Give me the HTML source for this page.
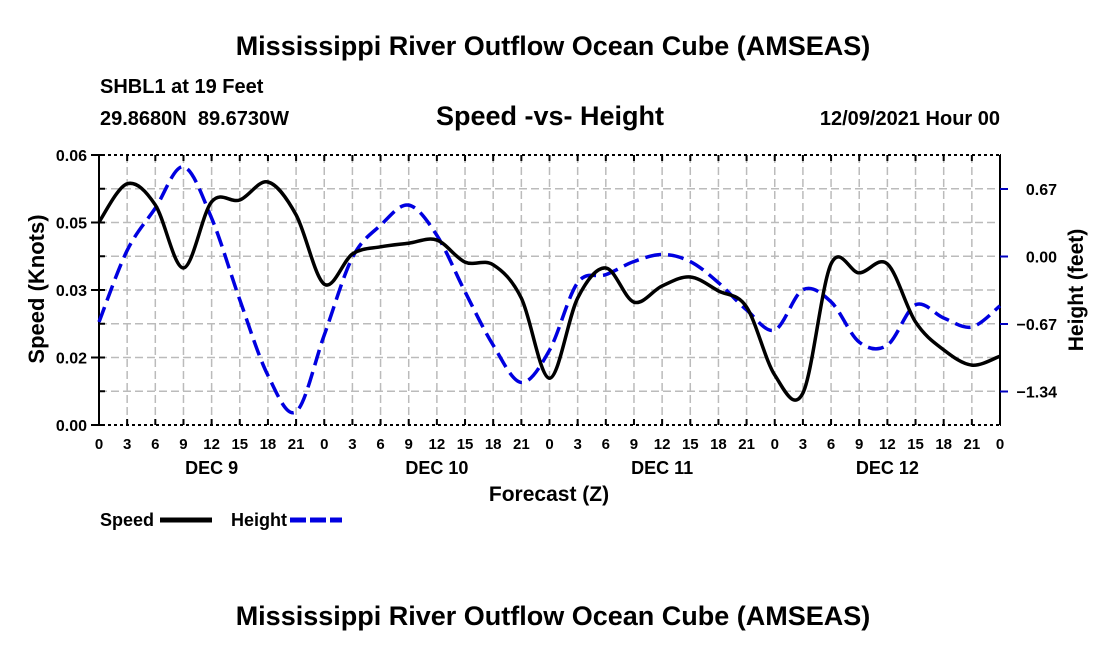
<!DOCTYPE html>
<html><head><meta charset="utf-8"><style>
body{margin:0;background:#fff;}
svg text{font-family:"Liberation Sans",Arial,sans-serif;font-weight:bold;fill:#000;}
</style></head><body>
<svg id="chart" width="1100" height="650" viewBox="0 0 1100 650">
<text x="553" y="55" font-size="27" text-anchor="middle">Mississippi River Outflow Ocean Cube (AMSEAS)</text>
<text x="100" y="93" font-size="20">SHBL1 at 19 Feet</text>
<text x="100" y="125" font-size="20" xml:space="preserve" style="white-space:pre">29.8680N  89.6730W</text>
<text x="550" y="125" font-size="27" text-anchor="middle">Speed -vs- Height</text>
<text x="1000" y="125" font-size="20" text-anchor="end">12/09/2021 Hour 00</text>
<g id="grid"></g>
<g id="axes"></g>
<g id="series"></g>
<text transform="translate(44,289) rotate(-90)" font-size="22" text-anchor="middle">Speed (Knots)</text>
<text transform="translate(1083,290) rotate(-90)" font-size="21" text-anchor="middle">Height (feet)</text>
<text x="549" y="501" font-size="21" text-anchor="middle">Forecast (Z)</text>
<g>
<text x="100" y="526" font-size="18">Speed</text>
<line x1="160" y1="520" x2="212" y2="520" stroke="#000" stroke-width="5"/>
<text x="231" y="526" font-size="18">Height</text>
<line x1="290" y1="520" x2="342" y2="520" stroke="#0000e0" stroke-width="5" stroke-dasharray="16,4"/>
</g>
<text x="553" y="625" font-size="27" text-anchor="middle">Mississippi River Outflow Ocean Cube (AMSEAS)</text>
</svg>
<script>
const hours = [0,3,6,9,12,15,18,21,24,27,30,33,36,39,42,45,48,51,54,57,60,63,66,69,72,75,78,81,84,87,90,93,96];
const speedValues = [0.0451,0.0536,0.0489,0.0349,0.0496,0.0500,0.0540,0.0467,0.0313,0.0380,0.0396,0.0404,0.0411,0.0362,0.0356,0.0282,0.0104,0.0282,0.0349,0.0273,0.0309,0.0329,0.0298,0.0262,0.0111,0.0071,0.0358,0.0338,0.0358,0.0229,0.0167,0.0133,0.0153];
const heightValues = [-0.65,0.06,0.48,0.89,0.38,-0.43,-1.18,-1.54,-0.78,-0.01,0.31,0.51,0.21,-0.35,-0.88,-1.25,-0.93,-0.26,-0.18,-0.05,0.02,-0.05,-0.26,-0.53,-0.73,-0.33,-0.45,-0.85,-0.88,-0.48,-0.61,-0.70,-0.49];
const leftTickValues = [0,0.015,0.03,0.045,0.06];
const leftTickLabels = ["0.00","0.02","0.03","0.05","0.06"];
const rightTickValues = [0.67,0,-0.67,-1.34];
const rightTickLabels = ["0.67","0.00","\u22120.67","\u22121.34"];
const dayLabels = ["DEC 9","DEC 10","DEC 11","DEC 12"];

const X0=99,X1=1000,Y0=425,Y1=155;
const xS=h=>X0+(h/96)*(X1-X0);
const yL=v=>Y0-(v/0.06)*(Y0-Y1);
const yR=v=>256.5-v*(67.5/0.67);
const NS="http://www.w3.org/2000/svg";
function mk(tag,attrs,parent){const e=document.createElementNS(NS,tag);for(const k in attrs)e.setAttribute(k,attrs[k]);parent.appendChild(e);return e;}
const grid=document.getElementById('grid'),axes=document.getElementById('axes'),series=document.getElementById('series');
for(let i=1;i<32;i++){const x=xS(i*3);const l=mk('line',{x1:x,y1:Y1,x2:x,y2:Y0,stroke:'#bbb','stroke-width':1.5,'stroke-dasharray':'8,4'},grid);

}
for(let i=1;i<8;i++){const y=yL(i*0.0075);const l=mk('line',{x1:X0,y1:y,x2:X1,y2:y,stroke:'#bbb','stroke-width':1.5,'stroke-dasharray':'8,4'},grid);

}
const frame=mk('rect',{x:X0,y:Y1,width:X1-X0,height:Y0-Y1,fill:'none',stroke:'#000','stroke-width':2},axes);


mk('line',{x1:X0,y1:Y1,x2:X1,y2:Y1,stroke:'#fff','stroke-width':2,'stroke-dasharray':'3,3'},axes);
mk('line',{x1:X0,y1:Y0,x2:X1,y2:Y0,stroke:'#fff','stroke-width':2,'stroke-dasharray':'3,3'},axes);
for(let i=0;i<=32;i++){const x=xS(i*3);mk('line',{x1:x,y1:Y0,x2:x,y2:Y0-6,stroke:'#000','stroke-width':2},axes);mk('line',{x1:x,y1:Y1,x2:x,y2:Y1+6,stroke:'#000','stroke-width':2},axes);
const t=mk('text',{x:x,y:449,'font-size':15,'text-anchor':'middle'},axes);t.textContent=String((i*3)%24);

}
dayLabels.forEach((d,i)=>{const t=mk('text',{x:xS(12+24*i),y:474,'font-size':18,'text-anchor':'middle'},axes);t.textContent=d;

});
for(let i=0;i<=8;i++){const y=yL(i*0.0075);mk('line',{x1:X0,y1:y,x2:X0+6,y2:y,stroke:'#000','stroke-width':2},axes);}
leftTickValues.forEach((v,i)=>{const y=yL(v);mk('line',{x1:X0-8,y1:y,x2:X0,y2:y,stroke:'#000','stroke-width':2},axes);
const t=mk('text',{x:X0-12,y:y+6,'font-size':16,'text-anchor':'end'},axes);t.textContent=leftTickLabels[i];

});
rightTickValues.forEach((v,i)=>{const y=yR(v);mk('line',{x1:X1,y1:y,x2:X1+8,y2:y,stroke:'#0000c0','stroke-width':2},axes);
const t=mk('text',{x:1057,y:y+6,'font-size':16,'text-anchor':'end'},axes);t.textContent=rightTickLabels[i];

});
function smooth(pts){let d=`M${pts[0][0]},${pts[0][1]}`;for(let i=0;i<pts.length-1;i++){const p0=pts[Math.max(0,i-1)],p1=pts[i],p2=pts[i+1],p3=pts[Math.min(pts.length-1,i+2)];
d+=` C${p1[0]+(p2[0]-p0[0])/6},${p1[1]+(p2[1]-p0[1])/6} ${p2[0]-(p3[0]-p1[0])/6},${p2[1]-(p3[1]-p1[1])/6} ${p2[0]},${p2[1]}`;}return d;}
const hp=mk('path',{d:smooth(hours.map((h,i)=>[xS(h),yR(heightValues[i])])),fill:'none',stroke:'#0000e0','stroke-width':3.5,'stroke-dasharray':'16,7'},series);


const sp=mk('path',{d:smooth(hours.map((h,i)=>[xS(h),yL(speedValues[i])])),fill:'none',stroke:'#000','stroke-width':3.5},series);


</script>
</body></html>
